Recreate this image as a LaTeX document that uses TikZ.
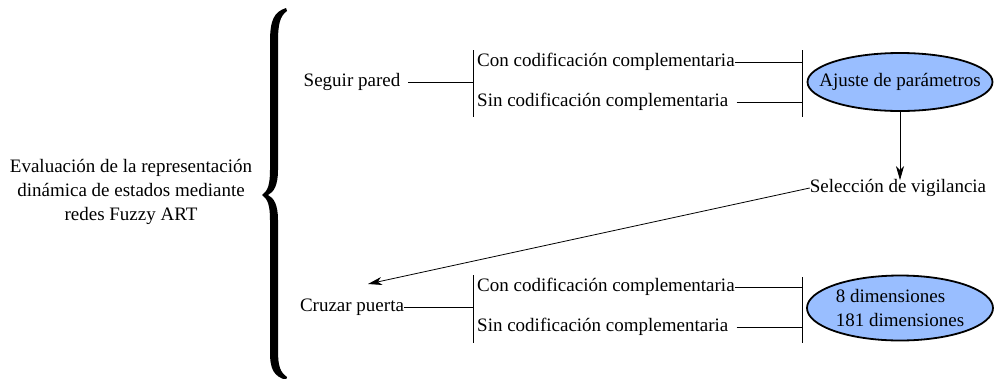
\documentclass[tikz,border=0pt]{standalone}
\usepackage{fontspec}
\setmainfont{Liberation Serif}
\usetikzlibrary{shapes.geometric,arrows.meta}
\definecolor{ellfill}{RGB}{153,190,255}
\begin{document}
\begin{tikzpicture}[x=1pt,y=-1pt,
  txt/.style={inner sep=0pt,font=\fontsize{19}{24}\selectfont},
  conn/.style={line width=0.8pt},
  bar/.style={line width=0.8pt},
  ell/.style={ellipse,draw,line width=1.8pt,fill=ellfill,inner sep=0pt},
  arr/.style={line width=0.8pt,-{Stealth[length=14pt,width=8pt,inset=4pt]}}]
\useasboundingbox (0,0) rectangle (995,378);
% root
\node[txt,align=center] (root) at (131,192) {Evaluación de la representación\\dinámica de estados mediante\\redes Fuzzy ART};
% brace
\fill (286,8) .. controls (274,12) and (270,20) .. (270,42)
  -- (270,170) .. controls (270,184) and (268,191) .. (262,195)
  .. controls (268,199) and (270,206) .. (270,220)
  -- (270,352) .. controls (270,370) and (274,376) .. (286,380)
  -- (287,377) .. controls (280,372) and (278,366) .. (278,350)
  -- (278,220) .. controls (278,205) and (274,198) .. (268,195)
  .. controls (274,192) and (278,185) .. (278,170)
  -- (278,42) .. controls (278,24) and (280,16) .. (287,11) -- cycle;
% upper branch
\node[txt] (seg) at (352,82) {Seguir pared};
\coordinate (b1t) at (473,50);
\coordinate (b1b) at (473,117);
\coordinate (b1m) at (473,82);
\draw[bar] (b1t) -- (b1b);
\draw[conn] ([xshift=8pt]seg.east) -- (b1m);
\node[txt,anchor=west] (con1) at (477,62) {Con codificación complementaria};
\node[txt,anchor=west] (sin1) at (477,102) {Sin codificación complementaria};
\coordinate (b2t) at (802,50);
\coordinate (b2b) at (802,117);
\draw[bar] (b2t) -- (b2b);
\draw[conn] (con1.east) -- (con1.east -| b2t);
\draw[conn] ([xshift=8pt]sin1.east) -- (sin1.east -| b2t);
\node[ell,minimum width=185pt,minimum height=58pt] (aj) at (900,82) {};
\node[txt] (ajt) at (aj.center) {Ajuste de parámetros};
% selection
\node[txt] (sel) at (898,188) {Selección de vigilancia};
\draw[arr] (aj.south) -- ([yshift=-1pt]aj.south |- sel.north);
\coordinate (cztip) at (368,284);
\draw[arr] (sel.west) -- (cztip);
% lower branch
\node[txt] (cz) at (352,307) {Cruzar puerta};
\coordinate (b3t) at (473,275);
\coordinate (b3b) at (473,343);
\coordinate (b3m) at (473,307);
\draw[bar] (b3t) -- (b3b);
\draw[conn] (cz.east) -- (b3m);
\node[txt,anchor=west] (con2) at (477,287) {Con codificación complementaria};
\node[txt,anchor=west] (sin2) at (477,327) {Sin codificación complementaria};
\coordinate (b4t) at (802,277);
\coordinate (b4b) at (802,343);
\draw[bar] (b4t) -- (b4b);
\draw[conn] (con2.east) -- (con2.east -| b4t);
\draw[conn] ([xshift=8pt]sin2.east) -- (sin2.east -| b4t);
\node[ell,minimum width=186pt,minimum height=65pt] (dim) at (900,308) {};
\node[txt,align=left] (dimt) at (dim.center) {8 dimensiones\\181 dimensiones};
\end{tikzpicture}
\end{document}
